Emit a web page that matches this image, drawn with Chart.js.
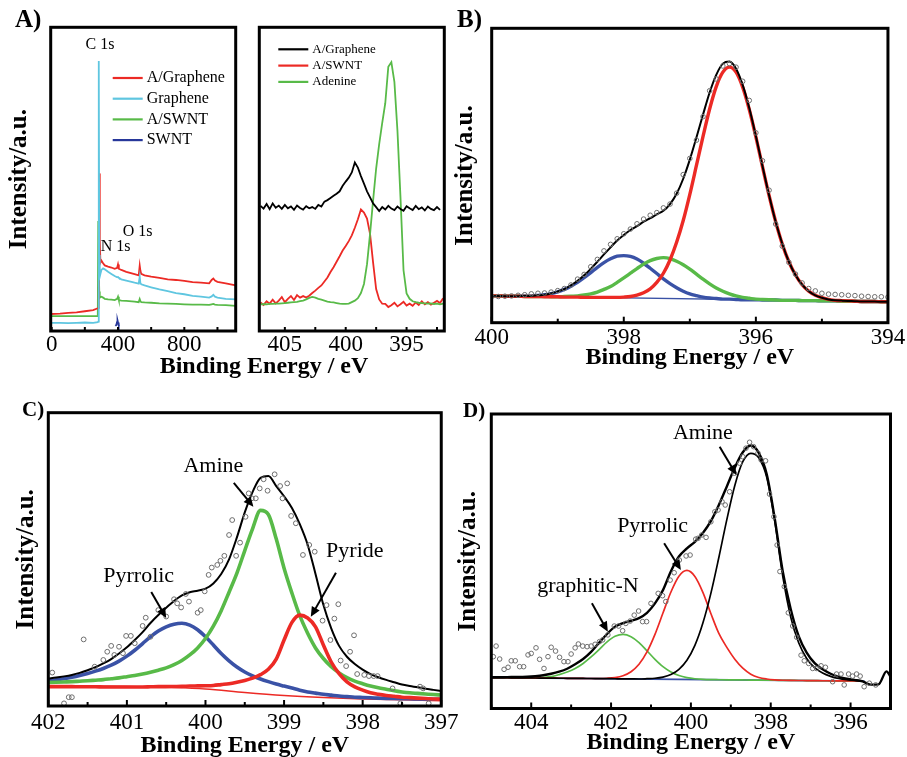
<!DOCTYPE html>
<html><head><meta charset="utf-8">
<script src="https://cdn.jsdelivr.net/npm/chart.js@4.4.1/dist/chart.umd.min.js"></script>
<style>
html,body{margin:0;padding:0;background:#fff;overflow:hidden;}
#wrap{position:relative;width:907px;height:757px;overflow:hidden;background:#fff;}
canvas{position:absolute;}
.lbl{position:absolute;font-family:'Liberation Serif','Times New Roman',Times,serif;font-weight:bold;color:#000;white-space:nowrap;}
</style></head><body>
<div id="wrap">
<canvas id="cA1"></canvas>
<canvas id="cA2"></canvas>
<canvas id="cB"></canvas>
<canvas id="cC"></canvas>
<canvas id="cD"></canvas>
<div class="lbl" style="left:15px;top:6px;font-size:25px;line-height:25px">A)</div>
<div class="lbl" style="left:457px;top:6px;font-size:25px;line-height:25px">B)</div>
<div class="lbl" style="left:22px;top:399px;font-size:21px;line-height:21px">C)</div>
<div class="lbl" style="left:463px;top:400px;font-size:21px;line-height:21px">D)</div>
<div class="lbl" style="left:114px;top:352.6px;width:300px;text-align:center;font-size:24px;line-height:24px">Binding Energy / eV</div>
</div>
<script>
// ---------------- DATA ----------------
// Panel A (left): XPS survey
const surveyEnergy = [-6, 50, 100, 150, 200, 250, 278, 281, 284, 287, 290, 294, 300, 310, 320, 340, 360, 380, 395, 400, 405, 420, 450, 500, 525, 531, 535, 540, 560, 600, 650, 700, 750, 800, 850, 900, 950, 965, 975, 985, 1000, 1050, 1110];
const surveyAGraphene = [5.6, 5.7, 6.0, 6.1, 6.5, 6.9, 7.5, 7.6, 8.0, 51.9, 30.0, 22.5, 23.2, 22.3, 21.6, 21.2, 20.9, 20.5, 20.8, 21.9, 20.5, 20.1, 19.5, 18.7, 18.3, 21.5, 19.9, 18.8, 18.3, 17.9, 17.5, 17.0, 16.8, 16.5, 16.1, 15.9, 15.7, 16.8, 17.3, 16.6, 16.2, 15.7, 15.0];
const surveyGraphene = [2.7, 2.7, 2.6, 2.7, 2.8, 2.7, 2.9, 3.1, 88.9, 25.0, 17.9, 18.8, 20.1, 20.6, 20.3, 19.5, 18.8, 18.1, 17.7, 17.8, 17.5, 17.0, 16.6, 15.9, 15.6, 17.9, 15.8, 15.4, 15.0, 14.4, 13.7, 13.1, 12.5, 12.1, 11.6, 11.3, 11.0, 11.4, 11.9, 11.3, 11.0, 10.6, 10.4];
const surveyASWNT = [4.9, 4.9, 4.9, 4.9, 4.9, 4.9, 4.9, 36.2, 20.0, 13.0, 11.0, 11.2, 11.3, 11.0, 10.6, 10.4, 10.3, 10.2, 10.6, 11.3, 10.2, 10.0, 9.9, 9.7, 9.5, 10.5, 9.9, 9.5, 9.4, 9.3, 9.1, 9.0, 8.9, 8.8, 8.7, 8.7, 8.6, 8.8, 8.9, 8.7, 8.6, 8.5, 8.3];
const swntEnergy = [384, 390, 394, 397, 400, 404, 410];
const swntValues = [1.7, 2.0, 2.9, 3.5, 2.8, 1.9, 1.7];
const surveyTickLabels = [0, 400, 800];

// Panel A (right): N 1s
const n1sEnergy = [407, 406.75, 406.5, 406.25, 406, 405.75, 405.5, 405.25, 405, 404.75, 404.5, 404.25, 404, 403.75, 403.5, 403.25, 403, 402.75, 402.5, 402.25, 402, 401.75, 401.5, 401.25, 401, 400.75, 400.5, 400.25, 400, 399.75, 399.5, 399.25, 399, 398.75, 398.5, 398.25, 398, 397.75, 397.5, 397.25, 397, 396.75, 396.5, 396.25, 396, 395.75, 395.5, 395.25, 395, 394.75, 394.5, 394.25, 394, 393.75, 393.5, 393.25, 393, 392.75, 392.5, 392.25, 392];
const n1sAGraphene = [41.2, 40.3, 41.8, 40.1, 42.0, 40.6, 41.3, 40.2, 41.5, 40.4, 41.0, 39.9, 41.3, 40.5, 40.0, 41.1, 40.4, 40.8, 40.2, 41.5, 41.0, 42.6, 43.1, 43.8, 44.5, 45.2, 46.0, 47.8, 49.2, 50.5, 52.2, 55.5, 53.8, 51.0, 48.5, 46.0, 44.0, 42.0, 40.8, 39.5, 40.8, 40.0, 41.2, 40.3, 39.8, 41.0, 40.2, 39.6, 41.1, 40.4, 39.8, 41.2, 40.1, 40.7, 39.7, 41.0, 40.2, 39.8, 40.8, 39.9, null];
const n1sASWNT = [9.4, 8.6, 9.8, 9.0, 10.3, 9.1, 10.0, 11.2, 9.5, 10.6, 11.5, 10.2, 11.8, 11.0, 11.5, 11.0, 11.6, 12.5, 13.3, 14.2, 15.0, 16.3, 17.6, 19.4, 21.0, 22.8, 24.6, 26.5, 28.0, 29.6, 31.5, 34.0, 36.8, 40.0, 39.0, 37.0, 32.0, 22.5, 13.8, 10.4, 9.0, 8.9, 7.9, 8.5, 9.3, 8.1, 8.8, 9.6, 8.4, 9.0, 8.3, 9.4, 8.6, 9.8, 8.8, 9.5, 8.7, 9.3, 9.9, 9.2, 10.8];
const n1sAdenine = [8.8, 8.8, 8.8, 8.9, 8.9, 9.0, 9.0, 9.1, 9.2, 9.3, 9.4, 9.5, 9.6, 9.8, 10.0, 10.4, 10.9, 11.2, 11.0, 10.6, 10.3, 10.0, 9.7, 9.5, 9.4, 9.2, 9.0, 8.9, 8.9, 9.0, 9.5, 10.0, 10.8, 12.5, 15.5, 22.0, 32.0, 43.0, 53.5, 61.5, 68.5, 75.0, 87.0, 88.5, 82.0, 66.0, 44.0, 20.0, 12.4, 10.6, 9.8, 9.5, 9.3, 9.2, 9.1, 9.0, 9.1, 8.9, 9.0, 8.8, 9.0];
const n1sTickLabels = [405, 400, 395];

// Panel B
const bEnergy = [400.0, 399.9, 399.8, 399.7, 399.6, 399.5, 399.4, 399.3, 399.2, 399.1, 399.0, 398.9, 398.8, 398.7, 398.6, 398.5, 398.4, 398.3, 398.2, 398.1, 398.0, 397.9, 397.8, 397.7, 397.6, 397.5, 397.4, 397.3, 397.2, 397.1, 397.0, 396.9, 396.8, 396.7, 396.6, 396.5, 396.4, 396.3, 396.2, 396.1, 396.0, 395.9, 395.8, 395.7, 395.6, 395.5, 395.4, 395.3, 395.2, 395.1, 395.0, 394.9, 394.8, 394.7, 394.6, 394.5, 394.4, 394.3, 394.2, 394.1, 394.0];
const bBlue = [9.1, 9.1, 9.0, 9.0, 9.0, 9.1, 9.1, 9.3, 9.5, 9.9, 10.5, 11.3, 12.4, 13.7, 15.3, 17.0, 18.8, 20.4, 21.7, 22.6, 22.8, 22.5, 21.6, 20.2, 18.5, 16.7, 14.9, 13.3, 11.9, 10.7, 9.8, 9.2, 8.7, 8.4, 8.2, 8.0, 8.0, 7.9, 7.8, 7.8, 7.8, 7.7, 7.7, 7.7, 7.6, 7.6, 7.6, 7.5, 7.5, 7.5, 7.4, 7.4, 7.4, 7.3, 7.3, 7.3, 7.2, 7.2, 7.2, 7.1, 7.1];
const bGreen = [9.1, 9.1, 9.0, 9.0, 9.0, 8.9, 8.9, 8.9, 8.9, 8.8, 8.8, 8.9, 9.0, 9.1, 9.4, 9.8, 10.4, 11.3, 12.3, 13.7, 15.2, 16.8, 18.4, 19.9, 21.1, 21.8, 22.1, 21.8, 20.9, 19.7, 18.2, 16.5, 14.8, 13.2, 11.8, 10.7, 9.8, 9.1, 8.6, 8.3, 8.0, 7.9, 7.8, 7.7, 7.6, 7.6, 7.6, 7.5, 7.5, 7.5, 7.4, 7.4, 7.4, 7.3, 7.3, 7.3, 7.2, 7.2, 7.2, 7.1, 7.1];
const bRed = [9.1, 9.1, 9.0, 9.0, 9.0, 8.9, 8.9, 8.9, 8.8, 8.8, 8.8, 8.7, 8.7, 8.7, 8.6, 8.6, 8.6, 8.6, 8.6, 8.6, 8.7, 8.9, 9.4, 10.2, 11.5, 13.7, 16.8, 21.3, 27.3, 34.7, 43.6, 53.4, 63.3, 72.6, 80.2, 85.1, 86.8, 85.1, 80.0, 72.4, 63.1, 53.0, 43.2, 34.3, 26.7, 20.7, 16.2, 12.9, 10.7, 9.3, 8.5, 7.9, 7.6, 7.5, 7.4, 7.3, 7.2, 7.2, 7.2, 7.1, 7.1];
const bFit = [9.1, 9.1, 9.0, 9.0, 9.0, 9.1, 9.1, 9.3, 9.5, 9.9, 10.6, 11.4, 12.7, 14.2, 16.1, 18.3, 20.7, 23.2, 25.6, 27.9, 29.8, 31.5, 32.8, 34.3, 35.5, 36.8, 38.0, 40.3, 43.8, 48.9, 55.4, 62.9, 70.7, 78.2, 84.2, 88.0, 88.7, 86.3, 80.8, 72.9, 63.4, 53.2, 43.3, 34.3, 26.8, 20.7, 16.2, 12.9, 10.7, 9.3, 8.5, 7.9, 7.6, 7.5, 7.4, 7.3, 7.2, 7.2, 7.2, 7.1, 7.1];
const bExp = [8.9, 8.9, 9.0, 9.1, 9.3, 9.5, 9.8, 10.0, 10.1, 10.4, 10.9, 11.6, 12.8, 14.8, 16.4, 19.0, 21.5, 24.4, 26.6, 28.5, 30.2, 31.8, 33.6, 35.2, 36.5, 37.4, 39.0, 40.3, 44.0, 50.3, 55.8, 62.0, 70.0, 78.8, 82.8, 87.2, 88.0, 86.8, 82.0, 75.5, 64.5, 55.0, 45.0, 33.5, 26.0, 20.5, 16.5, 13.5, 11.6, 10.8, 10.0, 9.7, 9.6, 9.5, 9.3, 9.2, 9.0, 8.9, 8.8, 8.8, 8.7];
const bBgEnergy = [400, 394];
const bBackground = [9.1, 7.1];
const bTickLabels = [400, 398, 396, 394];

// Panel C
const cEnergy = [402.0, 401.9, 401.8, 401.7, 401.6, 401.5, 401.4, 401.3, 401.2, 401.1, 401.0, 400.9, 400.8, 400.7, 400.6, 400.5, 400.4, 400.3, 400.2, 400.1, 400.0, 399.9, 399.8, 399.7, 399.6, 399.5, 399.4, 399.3, 399.2, 399.1, 399.0, 398.9, 398.8, 398.7, 398.6, 398.5, 398.4, 398.3, 398.2, 398.1, 398.0, 397.9, 397.8, 397.7, 397.6, 397.5, 397.4, 397.3, 397.2, 397.1, 397.0];
const cPyrrolic = [8.5, 8.9, 9.3, 9.8, 10.4, 11.1, 11.9, 12.8, 13.9, 15.3, 17.0, 19.0, 21.3, 23.6, 25.6, 27.0, 27.9, 28.2, 27.6, 26.0, 23.6, 20.8, 17.9, 15.4, 13.3, 11.6, 10.3, 9.2, 8.3, 7.5, 6.8, 6.1, 5.4, 4.8, 4.4, 4.0, 3.7, 3.4, 3.2, 3.0, 2.9, 2.8, 2.7, 2.6, 2.55, 2.5, 2.45, 2.4, 2.35, 2.3, 2.3];
const cAmine = [8.0, 8.1, 8.2, 8.3, 8.45, 8.6, 8.8, 9.0, 9.3, 9.6, 10.0, 10.4, 10.9, 11.5, 12.2, 13.0, 14.1, 15.5, 17.4, 19.8, 23.0, 27.2, 32.5, 38.8, 45.3, 53.0, 60.5, 66.7, 65.3, 57.0, 47.0, 38.5, 30.8, 24.8, 19.8, 16.2, 13.4, 11.3, 9.7, 8.5, 7.6, 6.8, 6.2, 5.7, 5.2, 4.8, 4.5, 4.3, 4.1, 3.9, 3.75];
const cPyride = [6.6, 6.6, 6.6, 6.6, 6.55, 6.55, 6.55, 6.5, 6.5, 6.5, 6.5, 6.5, 6.5, 6.55, 6.6, 6.6, 6.65, 6.7, 6.8, 6.85, 6.9, 7.0, 7.3, 7.6, 8.1, 8.7, 9.5, 10.7, 12.5, 16.0, 22.5, 28.5, 31.0, 30.0, 27.0, 20.8, 15.0, 11.0, 8.2, 6.5, 5.4, 4.5, 4.0, 3.6, 3.3, 3.0, 2.85, 2.7, 2.55, 2.4, 2.3];
const cFit = [9.4, 9.7, 10.1, 10.6, 11.3, 12.2, 13.2, 14.5, 16.0, 17.9, 20.0, 22.5, 25.2, 28.3, 31.0, 33.5, 35.8, 37.7, 38.8, 39.3, 40.0, 41.8, 45.0, 50.0, 57.5, 66.0, 73.0, 77.8, 78.4, 75.0, 71.5, 67.5, 62.0, 55.0, 45.0, 34.5, 26.5, 20.5, 16.8, 14.3, 12.4, 10.9, 9.8, 8.9, 8.1, 7.3, 6.8, 6.4, 5.9, 5.5, 5.1];
const cBgEnergy = [402, 401.5, 401, 400.5, 400, 399.5, 399, 398.5, 398, 397.5, 397];
const cBackground = [6.9, 6.85, 6.7, 6.35, 5.8, 4.6, 3.6, 2.9, 2.4, 2.1, 1.8];
const cExpEnergy = [401.95, 401.80, 401.74, 401.70, 401.55, 401.41, 401.30, 401.25, 401.20, 401.16, 401.10, 401.05, 401.01, 400.95, 400.90, 400.80, 400.76, 400.70, 400.60, 400.50, 400.40, 400.36, 400.31, 400.25, 400.21, 400.10, 400.06, 400.01, 399.96, 399.92, 399.85, 399.81, 399.76, 399.70, 399.66, 399.61, 399.56, 399.49, 399.45, 399.41, 399.36, 399.31, 399.26, 399.21, 399.12, 399.05, 399.02, 398.96, 398.91, 398.85, 398.76, 398.68, 398.61, 398.51, 398.46, 398.41, 398.36, 398.31, 398.28, 398.21, 398.16, 398.11, 398.07, 397.98, 397.92, 397.86, 397.81, 397.62, 397.52, 397.27, 397.23, 397.16];
const cExp = [11.4, 0.9, 3.0, 3.0, 22.7, 13.4, 15.7, 18.5, 20.5, 17.4, 20.2, 18.0, 23.9, 23.9, 21.4, 27.3, 30.1, 23.6, 32.7, 30.5, 36.4, 35.0, 33.6, 38.2, 35.6, 31.8, 32.7, 39.1, 44.7, 47.2, 48.1, 49.5, 51.2, 58.3, 63.4, 51.2, 55.7, 64.5, 72.5, 70.8, 70.8, 74.2, 77.3, 73.4, 79.0, 75.0, 70.8, 75.9, 64.8, 62.3, 51.5, 54.9, 52.6, 29.1, 34.4, 22.5, 29.8, 34.7, 15.5, 13.6, 18.5, 24.1, 10.9, 10.6, 10.2, 10.2, 10.2, 6.0, 0.9, 6.6, 6.0, 0.9];
const cTickLabels = [402, 401, 400, 399, 398, 397];

// Panel D
const dEnergy = [405.0, 404.9, 404.7, 404.5, 404.3, 404.1, 403.9, 403.7, 403.5, 403.3, 403.1, 402.9, 402.7, 402.5, 402.3, 402.1, 401.9, 401.7, 401.5, 401.3, 401.1, 400.9, 400.7, 400.5, 400.3, 400.1, 399.9, 399.7, 399.5, 399.3, 399.1, 398.9, 398.7, 398.5, 398.3, 398.1, 397.9, 397.7, 397.5, 397.3, 397.1, 396.9, 396.7, 396.5, 396.3, 396.1, 395.9, 395.7, 395.5, 395.3, 395.1, 395.0];
const dGraphiticN = [10.50, 10.48, 10.46, 10.43, 10.41, 10.40, 10.45, 10.55, 10.8, 11.5, 12.4, 13.6, 15.3, 17.5, 20.0, 22.6, 24.5, 25.2, 24.4, 22.4, 19.6, 16.7, 14.2, 12.4, 11.2, 10.5, 10.1, 9.9, 9.8, 9.77, 9.74, 9.72, 9.69, 9.66, 9.64, 9.61, 9.59, 9.56, 9.54, 9.51, 9.49, 9.46, 9.43, 9.41, 9.38, 9.36, 9.33, 9.31, null, null, null, null];
const dPyrrolic = [10.50, 10.48, 10.46, 10.43, 10.41, 10.38, 10.36, 10.33, 10.30, 10.28, 10.25, 10.23, 10.20, 10.18, 10.19, 10.27, 10.51, 11.13, 12.49, 15.02, 19.21, 25.18, 32.41, 39.56, 44.9, 46.87, 44.84, 39.46, 32.25, 25.5, 20.74, 16.72, 13.69, 11.66, 10.54, 10.01, 9.74, 9.6, 9.54, 9.51, 9.49, 9.46, 9.43, 9.41, 9.38, 9.36, 9.33, 9.31, null, null, null, null];
const dAmine = [10.50, 10.48, 10.46, 10.43, 10.41, 10.38, 10.36, 10.33, 10.30, 10.28, 10.25, 10.23, 10.20, 10.18, 10.15, 10.13, 10.10, 10.07, 10.05, 10.02, 10.12, 10.27, 10.67, 11.54, 13.3, 16.38, 21.44, 29.02, 39.09, 51.27, 64.14, 75.72, 83.79, 86.66, 85.14, 78.5, 63.59, 45.0, 31.04, 22.31, 16.99, 13.86, 12.03, 10.91, 10.18, 9.76, 9.53, 9.31, null, null, null, null];
const dFit = [10.6, 10.6, 10.6, 10.7, 10.7, 10.8, 11.0, 11.3, 11.8, 12.5, 13.5, 15.0, 16.8, 19.2, 22.3, 25.3, 27.8, 29.0, 29.8, 30.7, 32.5, 35.7, 40.2, 46.6, 51.6, 54.4, 56.6, 59.6, 63.6, 69.1, 75.4, 81.8, 87.0, 89.3, 86.8, 79.5, 64.5, 46.6, 33.8, 24.6, 19.0, 15.4, 13.3, 11.8, 10.8, 10.1, 9.7, 9.2, 8.1, 8.2, 12.6, 10.8];
const dBgEnergy = [405, 395.65];
const dBackground = [10.5, 9.3];
const dExpEnergy = [404.95, 404.88, 404.79, 404.68, 404.58, 404.5, 404.4, 404.29, 404.19, 404.08, 404.0, 403.88, 403.79, 403.68, 403.58, 403.5, 403.39, 403.29, 403.18, 403.08, 403.0, 402.9, 402.82, 402.71, 402.6, 402.5, 402.4, 402.29, 402.21, 402.08, 401.92, 401.81, 401.71, 401.63, 401.52, 401.42, 401.31, 401.21, 401.11, 401.0, 400.82, 400.71, 400.63, 400.52, 400.42, 400.29, 400.12, 400.02, 399.88, 399.82, 399.73, 399.62, 399.5, 399.4, 399.32, 399.22, 399.14, 399.03, 398.91, 398.78, 398.7, 398.62, 398.53, 398.43, 398.32, 398.24, 398.13, 398.03, 397.92, 397.84, 397.77, 397.66, 397.56, 397.45, 397.35, 397.24, 397.16, 397.05, 396.95, 396.85, 396.74, 396.63, 396.45, 396.35, 396.24, 396.16, 396.05, 395.95, 395.85, 395.76, 395.66, 395.53, 395.37];
const dExp = [17.6, 21.2, 16.8, 13.3, 14.0, 16.2, 16.2, 14.2, 14.2, 18.2, 18.7, 20.6, 16.7, 13.6, 17.6, 20.8, 19.5, 17.4, 15.9, 15.9, 18.5, 20.6, 21.9, 21.2, 21.0, 21.2, 21.8, 22.7, 23.3, 25.0, 28.0, 28.0, 26.4, 28.9, 29.7, 31.7, 33.1, 29.5, 29.5, 35.7, 39.1, 38.3, 36.3, 43.6, 46.1, 50.4, 51.8, 52.1, 57.5, 57.8, 58.9, 58.1, 63.4, 66.8, 67.4, 70.2, 69.1, 73.6, 79.9, 83.3, 85.5, 88.4, 90.4, 88.9, 86.7, 84.4, 84.1, 72.8, 65.1, 55.5, 46.5, 41.4, 32.5, 28.0, 24.2, 18.1, 16.2, 15.3, 13.6, 13.6, 14.5, 14.0, 9.1, 11.7, 11.7, 8.0, 11.7, 11.0, 11.7, 11.0, 7.4, 8.6, 8.0];
const dTickLabels = [404, 402, 400, 398, 396];

// ---------------- STYLE ----------------
const SERIF = "'Liberation Serif','Times New Roman',Times,serif";
const RED = '#ec2a25', GREEN = '#58ba48', BLUE = '#3a52a6', CYAN = '#5fc6e0', NAVY = '#27379a', GRAY = '#6e6e6e';
Chart.defaults.font.family = SERIF;
Chart.defaults.color = '#000';

function pts(xs, ys) { return xs.map((x, i) => ({ x: x, y: ys[i] })); }
function lineDs(label, xs, ys, color, width, smooth) {
  const d = { label: label, data: pts(xs, ys), borderColor: color, backgroundColor: color, borderWidth: width, pointRadius: 0, fill: false, tension: 0, spanGaps: false };
  if (smooth) d.cubicInterpolationMode = 'monotone';
  return d;
}
function expDs(xs, ys, r) {
  return { label: 'Experimental', data: pts(xs, ys), showLine: false, pointRadius: r, pointStyle: 'circle', borderColor: GRAY, backgroundColor: 'rgba(255,255,255,0)', pointBorderWidth: 1, borderWidth: 1 };
}
function labeler(list) { return v => list.some(l => Math.abs(l - v) < 1e-6) ? String(v) : ''; }

const decorPlugin = {
  id: 'decor',
  afterDatasetsDraw(chart, args, o) {
    const ctx = chart.ctx, a = chart.chartArea, xs = chart.scales.x, ys = chart.scales.y;
    ctx.save();
    ctx.strokeStyle = '#000'; ctx.fillStyle = '#000';
    // inward tick marks
    ctx.lineWidth = 2;
    xs.ticks.forEach(t => {
      const px = xs.getPixelForValue(t.value);
      const len = (t.label !== '' && t.label != null) ? o.majorLen : o.minorLen;
      ctx.beginPath(); ctx.moveTo(px, a.bottom); ctx.lineTo(px, a.bottom - len); ctx.stroke();
    });
    // frame
    ctx.lineWidth = 3;
    ctx.strokeRect(a.left, a.top, a.right - a.left, a.bottom - a.top);
    // annotation texts
    (o.texts || []).forEach(t => {
      ctx.font = t.font; ctx.textAlign = 'center'; ctx.textBaseline = 'middle';
      ctx.fillText(t.text, xs.getPixelForValue(t.x), ys.getPixelForValue(t.y));
    });
    // arrows
    (o.arrows || []).forEach(ar => {
      const x1 = xs.getPixelForValue(ar.x1), y1 = ys.getPixelForValue(ar.y1);
      const x2 = xs.getPixelForValue(ar.x2), y2 = ys.getPixelForValue(ar.y2);
      const ang = Math.atan2(y2 - y1, x2 - x1), L = 10, W = 4.5;
      ctx.lineWidth = 2;
      ctx.beginPath(); ctx.moveTo(x1, y1); ctx.lineTo(x2 - 6 * Math.cos(ang), y2 - 6 * Math.sin(ang)); ctx.stroke();
      ctx.beginPath(); ctx.moveTo(x2, y2);
      ctx.lineTo(x2 - L * Math.cos(ang) + W * Math.sin(ang), y2 - L * Math.sin(ang) - W * Math.cos(ang));
      ctx.lineTo(x2 - L * Math.cos(ang) - W * Math.sin(ang), y2 - L * Math.sin(ang) + W * Math.cos(ang));
      ctx.closePath(); ctx.fill();
    });
    // legend
    if (o.legend) {
      const lg = o.legend;
      ctx.font = lg.font; ctx.textAlign = 'left'; ctx.textBaseline = 'middle';
      lg.items.forEach((di, k) => {
        const ds = chart.data.datasets[di];
        const yy = a.top + lg.dy + k * lg.step, x0 = a.left + lg.dx;
        ctx.strokeStyle = ds.borderColor; ctx.lineWidth = 2.2;
        ctx.beginPath(); ctx.moveTo(x0, yy); ctx.lineTo(x0 + lg.len, yy); ctx.stroke();
        ctx.fillStyle = '#000';
        ctx.fillText(ds.label, x0 + lg.len + 4, yy);
      });
    }
    ctx.restore();
  }
};

function makeChart(id, g, datasets, xo, yTitlePad, xTitle, decor) {
  const c = document.getElementById(id);
  c.style.left = g.left + 'px'; c.style.top = g.top + 'px';
  c.width = g.w; c.height = g.h; c.style.width = g.w + 'px'; c.style.height = g.h + 'px';
  const yScale = (yTitlePad != null) ? {
    min: 0, max: 100,
    ticks: { display: false }, grid: { display: false, drawTicks: false }, border: { display: false },
    title: { display: true, text: 'Intensity/a.u.', color: '#000', font: { family: SERIF, size: 25, weight: 'bold' }, padding: { top: yTitlePad, bottom: 0 } },
    afterFit: s => { s.width = g.yW; }
  } : { display: false, min: 0, max: 100 };
  return new Chart(c, {
    type: 'line',
    data: { datasets: datasets },
    options: {
      responsive: false, animation: false,
      layout: { padding: g.pad },
      plugins: { legend: { display: false }, tooltip: { enabled: false }, decor: decor },
      scales: {
        x: {
          type: 'linear', min: xo.min, max: xo.max, reverse: !!xo.reverse,
          ticks: { stepSize: xo.step, includeBounds: false, autoSkip: false, maxRotation: 0, minRotation: 0, padding: xo.pad, color: '#000', font: { family: SERIF, size: 23 }, callback: labeler(xo.labels) },
          grid: { display: false, drawTicks: false }, border: { display: false },
          title: xTitle ? { display: true, text: 'Binding Energy / eV', color: '#000', font: { family: SERIF, size: 24, weight: 'bold' }, padding: { top: 0, bottom: 0 } } : { display: false },
          afterFit: s => { s.height = g.xH; }
        },
        y: yScale
      }
    },
    plugins: [decorPlugin]
  });
}

// ---------------- PANEL A (left) ----------------
makeChart('cA1', { left: 0, top: 0, w: 242, h: 360, pad: { top: 27.3, right: 6.3, left: 0, bottom: 0 }, yW: 50.7, xH: 29 },
  [
    lineDs('Graphene', surveyEnergy, surveyGraphene, CYAN, 1.8),
    lineDs('A/Graphene', surveyEnergy, surveyAGraphene, RED, 1.8),
    lineDs('A/SWNT', surveyEnergy, surveyASWNT, GREEN, 1.8),
    lineDs('SWNT', swntEnergy, swntValues, NAVY, 1.8)
  ],
  { min: -6, max: 1110, step: 200, labels: surveyTickLabels, pad: 0 }, 5, false,
  {
    majorLen: 4, minorLen: 4,
    texts: [
      { x: 291, y: 94.4, text: 'C 1s', font: '16px ' + SERIF },
      { x: 386, y: 27.6, text: 'N 1s', font: '16px ' + SERIF },
      { x: 518, y: 32.8, text: 'O 1s', font: '16px ' + SERIF }
    ],
    legend: { items: [1, 0, 2, 3], dx: 62, dy: 50.7, step: 20.7, len: 30, font: '16px ' + SERIF }
  });

// ---------------- PANEL A (right) ----------------
makeChart('cA2', { left: 245, top: 0, w: 204, h: 360, pad: { top: 27.3, right: 4.7, left: 14.3, bottom: 0 }, xH: 29 },
  [
    lineDs('A/Graphene', n1sEnergy, n1sAGraphene, '#000', 1.8),
    lineDs('Adenine', n1sEnergy, n1sAdenine, GREEN, 1.8),
    lineDs('A/SWNT', n1sEnergy, n1sASWNT, RED, 1.8)
  ],
  { min: 391.9, max: 407.1, step: 2.5, reverse: true, labels: n1sTickLabels, pad: 0 }, null, false,
  {
    majorLen: 4, minorLen: 4,
    legend: { items: [0, 2, 1], dx: 19, dy: 22, step: 16.3, len: 30, font: '13px ' + SERIF }
  });

// ---------------- PANEL B ----------------
makeChart('cB', { left: 446, top: 0, w: 461, h: 372, pad: { top: 28.3, right: 17.7, left: 0, bottom: 0 }, yW: 45.7, xH: 49.3 },
  [
    expDs(bEnergy, bExp, 2.3),
    lineDs('Fit', bEnergy, bFit, '#000', 2, true),
    lineDs('Peak 3', bEnergy, bRed, RED, 3.4, true),
    lineDs('Peak 2', bEnergy, bGreen, GREEN, 3.4, true),
    lineDs('Peak 1', bEnergy, bBlue, BLUE, 3.4, true),
    lineDs('Background', bBgEnergy, bBackground, BLUE, 1.4)
  ],
  { min: 394, max: 400, step: 1, reverse: true, labels: bTickLabels, pad: 1.8 }, 5, true,
  { majorLen: 6, minorLen: 4 });

// ---------------- PANEL C ----------------
makeChart('cC', { left: 0, top: 395, w: 462, h: 365, pad: { top: 17.7, right: 17.7, left: 0, bottom: 0 }, yW: 48.3, xH: 54 },
  [
    expDs(cExpEnergy, cExp, 2.4),
    lineDs('Fit', cEnergy, cFit, '#000', 2, true),
    lineDs('Pyride', cEnergy, cPyride, RED, 3.6, true),
    lineDs('Amine', cEnergy, cAmine, GREEN, 3.6, true),
    lineDs('Pyrrolic', cEnergy, cPyrrolic, BLUE, 3.6, true),
    lineDs('Background', cBgEnergy, cBackground, RED, 1.4, true)
  ],
  { min: 397, max: 402, step: 0.5, reverse: true, labels: cTickLabels, pad: 3.5 }, 11.3, true,
  {
    majorLen: 6, minorLen: 4,
    texts: [
      { x: 399.9, y: 81.7, text: 'Amine', font: '22px ' + SERIF },
      { x: 400.85, y: 44.2, text: 'Pyrrolic', font: '22px ' + SERIF },
      { x: 398.1, y: 52.9, text: 'Pyride', font: '22px ' + SERIF }
    ],
    arrows: [
      { x1: 399.64, y1: 76.1, x2: 399.39, y2: 67.9 },
      { x1: 400.69, y1: 38.9, x2: 400.5, y2: 30.0 },
      { x1: 398.34, y1: 45.4, x2: 398.66, y2: 30.4 }
    ]
  });

// ---------------- PANEL D ----------------
makeChart('cD', { left: 446, top: 395, w: 461, h: 362, pad: { top: 19, right: 16.5, left: 0, bottom: 0 }, yW: 45.3, xH: 48.5 },
  [
    expDs(dExpEnergy, dExp, 2.3),
    lineDs('Fit', dEnergy, dFit, '#000', 2.4, true),
    lineDs('Amine', dEnergy, dAmine, '#000', 1.7, true),
    lineDs('Pyrrolic', dEnergy, dPyrrolic, RED, 1.7, true),
    lineDs('graphitic-N', dEnergy, dGraphiticN, GREEN, 1.7, true),
    lineDs('Background', dBgEnergy, dBackground, BLUE, 1.7)
  ],
  { min: 395, max: 405, step: 1, reverse: true, labels: dTickLabels, pad: 0.5 }, 8, true,
  {
    majorLen: 6, minorLen: 4,
    texts: [
      { x: 399.7, y: 93.5, text: 'Amine', font: '22px ' + SERIF },
      { x: 400.96, y: 62.0, text: 'Pyrrolic', font: '22px ' + SERIF },
      { x: 402.58, y: 41.4, text: 'graphitic-N', font: '22px ' + SERIF }
    ],
    arrows: [
      { x1: 399.28, y1: 88.9, x2: 398.86, y2: 79.3 },
      { x1: 400.67, y1: 56.1, x2: 400.25, y2: 47.0 },
      { x1: 402.48, y1: 35.7, x2: 402.08, y2: 26.1 }
    ]
  });
</script>
</body></html>
